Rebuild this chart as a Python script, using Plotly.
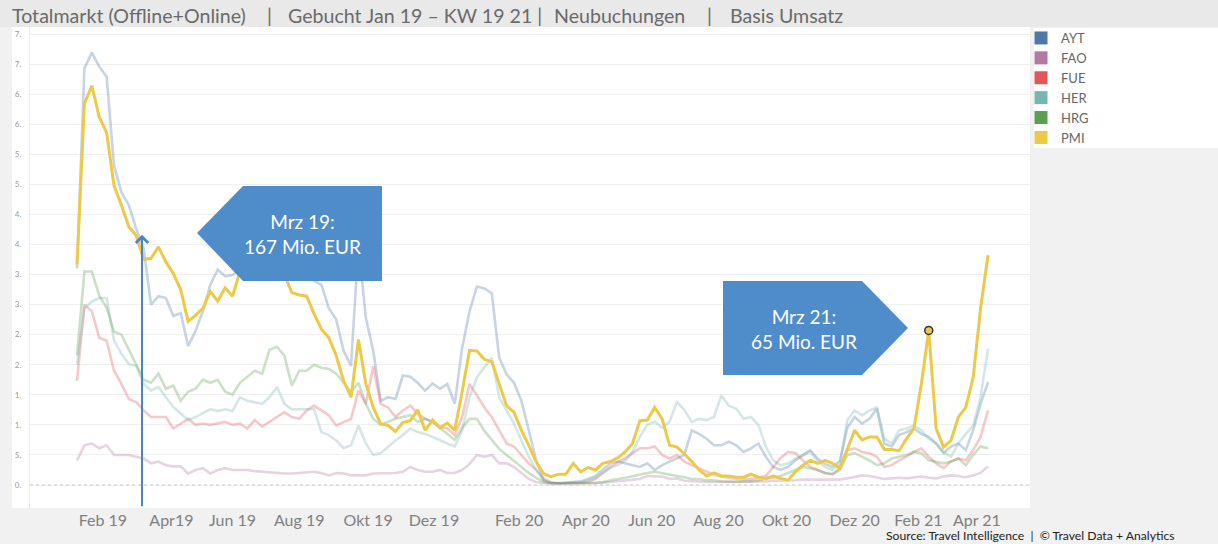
import plotly.graph_objects as go

# ---------------- data (weekly, Jan 2019 .. KW 19 2021) ----------------
PMI = [36.7, 63.4, 66.4, 61.2, 58.6, 49.8, 46.5, 42.9, 41.5, 37.5,
       37.7, 39.6, 37.1, 35.2, 32.5, 27.2, 28.2, 29.4, 32.2, 30.6,
       32.8, 31.4, 35.5, 38.5, 40.0, 41.0, 40.0, 38.0, 35.0, 32.0,
       31.6, 31.4, 28.5, 25.9, 24.5, 21.5, 17.3, 14.6, 24.2, 16.8,
       12.9, 10.2, 9.9, 8.9, 10.4, 10.7, 12.5, 9.1, 10.8, 9.5,
       10.3, 9.1, 15.5, 22.4, 22.3, 20.9, 20.5, 16.8, 13.2, 12.1,
       9.1, 6.6, 3.8, 1.9, 1.4, 1.8, 1.8, 3.6, 2.2, 2.9,
       2.5, 3.6, 3.9, 4.5, 5.5, 6.9, 10.7, 10.8, 12.9, 11.0,
       6.6, 6.3, 5.2, 3.9, 2.5, 1.5, 2.0, 1.5, 1.5, 1.3,
       1.3, 1.8, 1.3, 1.1, 1.5, 1.1, 0.8, 2.2, 3.3, 4.1,
       3.6, 4.1, 3.6, 2.8, 6.1, 9.1, 7.5, 8.0, 8.0, 5.9,
       5.9, 5.7, 7.7, 9.4, 16.8, 25.7, 9.4, 6.3, 7.4, 11.3,
       12.9, 17.9, 29.4, 38.2]

AYT = [36.0, 69.3, 71.9, 69.6, 67.9, 53.1, 48.7, 46.5, 42.6, 39.3,
       30.0, 31.4, 31.1, 28.1, 28.6, 23.1, 25.6, 28.9, 33.3, 35.8,
       34.7, 34.9, 36.0, 37.0, 38.0, 39.0, 38.0, 37.0, 36.0, 35.5,
       35.0, 34.5, 34.0, 33.3, 29.4, 27.5, 22.3, 19.8, 40.0, 27.8,
       22.3, 14.0, 14.6, 14.3, 18.2, 18.0, 17.0, 15.7, 16.9, 16.0,
       16.8, 13.5, 22.8, 28.9, 33.0, 32.7, 31.9, 21.2, 18.4, 17.0,
       14.0, 9.1, 4.1, 0.8, 0.3, 0.3, 0.4, 0.5, 0.6, 1.0,
       1.5, 2.5, 3.6, 3.9, 3.6, 3.3, 3.0, 3.6, 2.5, 3.3,
       3.9, 4.4, 5.0, 9.1, 8.5, 7.7, 6.6, 6.6, 7.2, 6.6,
       5.5, 6.1, 6.9, 4.7, 3.0, 2.5, 3.0, 4.1, 5.0, 5.8,
       4.4, 3.5, 3.0, 4.0, 9.5, 11.3, 10.2, 11.0, 12.7, 6.9,
       6.4, 8.3, 8.8, 9.4, 8.5, 8.0, 6.9, 5.3, 6.4, 6.9,
       5.8, 9.1, 13.5, 17.1]

HER = [20.0, 29.4, 30.5, 31.1, 31.1, 24.0, 21.8, 20.1, 19.8, 16.8,
       15.7, 16.3, 14.6, 13.0, 11.9, 10.8, 11.3, 12.0, 12.6, 12.3,
       12.6, 12.3, 14.6, 14.0, 13.8, 13.5, 14.6, 16.3, 13.5, 12.6,
       12.6, 12.6, 12.6, 8.8, 8.3, 7.4, 6.1, 6.6, 9.9, 6.9,
       5.0, 5.3, 6.4, 7.4, 8.3, 9.4, 8.8, 8.5, 8.0, 7.4,
       6.9, 6.4, 9.1, 14.6, 17.9, 19.6, 21.2, 14.6, 12.4, 10.2,
       7.4, 4.7, 2.5, 0.8, 0.3, 0.2, 0.3, 0.4, 0.5, 0.8,
       1.2, 2.0, 2.8, 3.3, 4.0, 5.5, 8.0, 10.0, 10.5, 9.5,
       10.5, 13.8, 12.5, 10.5, 11.0, 10.8, 11.3, 14.9, 13.2, 12.7,
       11.0, 11.3, 10.0, 6.4, 4.1, 3.3, 3.6, 4.4, 5.0, 5.5,
       4.0, 3.0, 2.5, 3.5, 10.8, 12.4, 11.6, 12.4, 12.9, 7.7,
       6.9, 9.1, 9.4, 9.9, 9.1, 7.7, 6.9, 5.5, 4.7, 6.9,
       8.5, 9.9, 14.6, 22.6]

HRG = [21.5, 35.5, 35.5, 31.5, 29.5, 25.5, 25.0, 22.5, 20.0, 17.5,
       17.0, 18.5, 16.0, 16.5, 14.0, 15.5, 16.0, 17.5, 17.0, 17.5,
       15.5, 15.0, 17.0, 18.0, 19.0, 18.5, 22.5, 23.0, 21.5, 16.5,
       19.0, 19.0, 20.0, 19.5, 19.3, 18.5, 17.0, 15.5, 17.0, 13.5,
       11.0, 10.0, 10.5, 11.0, 11.3, 11.6, 10.5, 11.0, 10.5, 9.5,
       8.5, 7.5, 9.5, 11.0, 11.0, 9.0, 7.5, 6.0, 5.0, 4.0,
       3.0, 2.0, 1.2, 0.5, 0.3, 0.3, 0.3, 0.3, 0.3, 0.3,
       0.3, 0.5, 0.8, 1.0, 1.2, 1.5, 1.8, 2.0, 2.2, 2.0,
       1.8, 1.5, 1.3, 1.0, 1.0, 0.8, 0.8, 0.6, 0.5, 0.5,
       0.6, 0.6, 0.8, 1.0, 1.2, 1.5, 2.0, 2.5, 3.0, 2.8,
       2.5, 2.0, 1.8, 2.5, 5.0, 5.3, 4.7, 4.1, 3.3, 3.6,
       4.4, 4.7, 5.0, 5.5, 5.3, 4.1, 3.9, 3.6, 3.9, 4.4,
       3.3, 5.0, 6.4, 6.1]

FUE = [17.3, 30.0, 28.9, 24.5, 24.0, 19.0, 16.8, 14.3, 13.8, 12.4,
       11.3, 11.3, 11.3, 9.4, 10.2, 11.0, 10.0, 10.2, 10.0, 10.2,
       10.5, 10.0, 10.2, 9.4, 10.8, 9.7, 10.5, 11.3, 12.1, 11.3,
       11.0, 12.4, 13.2, 12.4, 11.6, 9.9, 10.5, 11.0, 15.7, 13.5,
       19.8, 13.5, 12.9, 11.3, 12.4, 13.2, 11.9, 11.0, 10.5, 9.7,
       9.4, 8.3, 11.3, 16.8, 14.9, 12.9, 11.3, 9.1, 6.9, 6.4,
       5.0, 3.6, 2.5, 1.0, 0.5, 0.3, 0.3, 0.3, 0.3, 0.5,
       1.0, 2.0, 3.0, 3.8, 4.4, 5.3, 6.1, 6.1, 6.4, 5.0,
       4.4, 5.0, 3.9, 3.3, 2.8, 2.2, 1.7, 1.4, 1.2, 1.0,
       1.0, 1.0, 1.2, 1.5, 3.0, 4.5, 5.5, 5.3, 4.1, 3.0,
       2.5, 2.0, 1.8, 2.8, 5.8, 6.1, 5.5, 5.3, 4.7, 3.0,
       3.3, 4.1, 4.7, 5.5, 6.1, 4.7, 3.6, 2.8, 3.9, 4.4,
       4.1, 5.8, 8.0, 12.4]

FAO = [4.1, 6.6, 6.9, 6.1, 6.6, 5.0, 5.0, 5.0, 4.7, 4.4,
       3.6, 3.9, 3.3, 3.1, 3.1, 1.9, 2.5, 2.8, 1.9, 2.5,
       2.8, 2.5, 2.5, 2.5, 2.3, 2.2, 2.0, 2.0, 1.9, 1.9,
       2.0, 2.2, 2.2, 2.0, 1.6, 2.0, 1.9, 1.6, 1.6, 1.6,
       1.9, 1.9, 2.0, 2.0, 2.2, 3.0, 2.5, 2.2, 2.2, 2.5,
       2.0, 2.0, 2.5, 3.5, 5.0, 4.7, 5.0, 3.6, 3.6, 3.0,
       2.0, 1.0, 0.5, 0.3, 0.3, 0.3, 0.3, 0.3, 0.3, 0.3,
       0.3, 0.4, 0.5, 0.6, 0.8, 0.8, 1.0, 1.5, 1.5, 1.4,
       1.0, 1.1, 0.7, 0.6, 0.6, 0.5, 0.5, 0.5, 0.6, 0.6,
       0.5, 0.5, 0.6, 0.6, 0.7, 0.7, 0.8, 0.8, 0.9, 0.9,
       0.8, 0.8, 0.8, 0.9, 1.1, 1.4, 1.6, 1.5, 1.3, 1.0,
       1.1, 1.2, 1.1, 1.2, 1.4, 1.2, 1.1, 1.4, 1.6, 1.5,
       1.3, 1.6, 2.0, 3.1]

weeks = list(range(len(PMI)))

x_tick_labels = ["Feb 19", "Apr19", "Jun 19", "Aug 19", "Okt 19", "Dez 19",
                 "Feb 20", "Apr 20", "Jun 20", "Aug 20", "Okt 20", "Dez 20",
                 "Feb 21", "Apr 21"]
x_tick_pos = [3.5, 12.75, 21.0, 30.0, 39.3, 48.2, 59.7, 68.7, 77.6, 86.6,
              95.8, 105.0, 113.6, 121.5]
y_tick_vals = list(range(0, 80, 5))
y_tick_text = ["0.", "5.", "1.", "1.", "2.", "2.", "3.", "3.",
               "4.", "4.", "5.", "5.", "6.", "6.", "7.", "7."]

series = [("AYT", AYT, "#4e79a7"), ("FAO", FAO, "#b07aa1"), ("FUE", FUE, "#e15759"),
          ("HER", HER, "#76b7b2"), ("HRG", HRG, "#59a14f"), ("PMI", PMI, "#edc948")]

# ---------------- geometry helpers ----------------
W, H = 1218, 544
L, R, T, B = 30, 188, 27, 36
PW, PH = W - L - R, H - T - B


def pxx(xp):
    return (xp - L) / PW


def pyy(yp):
    return (H - B - yp) / PH


def fade(hex_color, a=0.32):
    h = hex_color.lstrip("#")
    r, g, b = int(h[0:2], 16), int(h[2:4], 16), int(h[4:6], 16)
    return f"rgba({r},{g},{b},{a})"


fig = go.Figure()

for name, vals, col in series:
    highlighted = name == "PMI"
    fig.add_trace(go.Scatter(
        x=weeks, y=vals, mode="lines", name=name, showlegend=False,
        line=dict(color=col if highlighted else fade(col), width=3 if highlighted else 2.6),
        hoverinfo="skip"))

# highlighted point (Mrz 21 peak)
peak = max(range(100, 121), key=lambda i: PMI[i])
fig.add_trace(go.Scatter(x=[weeks[peak]], y=[PMI[peak]], mode="markers", showlegend=False,
                         marker=dict(size=8, color="#edc948", line=dict(color="#333333", width=1.5)),
                         hoverinfo="skip"))

# legend entries (full colours, squares)
for name, vals, col in series:
    fig.add_trace(go.Scatter(x=[None], y=[None], mode="markers", name=name,
                             marker=dict(symbol="square", size=13, color=col)))

shapes = []
# top band
shapes.append(dict(type="rect", xref="paper", yref="paper", x0=pxx(0), x1=pxx(W), y0=pyy(27), y1=pyy(0),
                   fillcolor="#e9e9e9", line=dict(width=0), layer="below"))
# white chart area
shapes.append(dict(type="rect", xref="paper", yref="paper", x0=pxx(12), x1=pxx(1030), y0=pyy(508), y1=pyy(27),
                   fillcolor="white", line=dict(width=0), layer="below"))
# legend background
shapes.append(dict(type="rect", xref="paper", yref="paper", x0=pxx(1034), x1=pxx(W), y0=pyy(148), y1=pyy(28),
                   fillcolor="white", line=dict(width=0), layer="below"))
# dotted zero line
shapes.append(dict(type="line", xref="paper", yref="y", x0=0, x1=1, y0=0, y1=0,
                   line=dict(color="#c8c8c8", width=1, dash="dot")))


def poly(points):
    return "M " + " L ".join(f"{pxx(a):.5f},{pyy(b):.5f}" for a, b in points) + " Z"


BOX = "#4f8cca"
shapes.append(dict(type="path", xref="paper", yref="paper",
                   path=poly([(197, 233), (243, 186), (382, 186), (382, 281), (243, 281)]),
                   fillcolor=BOX, line=dict(width=0)))
shapes.append(dict(type="path", xref="paper", yref="paper",
                   path=poly([(723, 281), (862, 281), (908, 328), (862, 375), (723, 375)]),
                   fillcolor=BOX, line=dict(width=0)))

annotations = []
TF = "Lato, Open Sans, sans-serif"
title_parts = [(10, "Totalmarkt (Offline+Online)"), (265, "|"),
               (286, "Gebucht Jan 19 \u2013 KW 19 21 |"), (552, "Neubuchungen"),
               (705, "|"), (728, "Basis Umsatz")]
for xp, txt in title_parts:
    annotations.append(dict(xref="paper", yref="paper", x=pxx(xp), y=pyy(15), xanchor="left", yanchor="middle",
                            text=txt, showarrow=False, font=dict(family=TF, size=19.6, color="#6a6a6a")))

annotations.append(dict(xref="paper", yref="paper", x=pxx(302), y=pyy(234), xanchor="center", yanchor="middle",
                        text="Mrz 19:<br>167 Mio. EUR", showarrow=False,
                        font=dict(family=TF, size=19, color="white")))
annotations.append(dict(xref="paper", yref="paper", x=pxx(804), y=pyy(329), xanchor="center", yanchor="middle",
                        text="Mrz 21:<br>65 Mio. EUR", showarrow=False,
                        font=dict(family=TF, size=19, color="white")))
annotations.append(dict(xref="paper", yref="paper", x=pxx(1176), y=pyy(535.5), xanchor="right", yanchor="middle",
                        text="Source: Travel Intelligence  |  \u00a9 Travel Data + Analytics", showarrow=False,
                        borderpad=0,
                        font=dict(family=TF, size=12.2, color="#222222")))
# vertical arrow (Mrz 19)
arrow_x = weeks[0] + (142 - 77) / (988 - 77) * (weeks[-1] - weeks[0])
annotations.append(dict(xref="x", yref="y", axref="x", ayref="y", x=arrow_x, y=41.6, ax=arrow_x, ay=-3.8,
                        text="", showarrow=True, arrowhead=4, arrowsize=1.2, arrowwidth=2,
                        arrowcolor="#4a86c6"))

x_min = weeks[0] - (77 - L) / ((988 - 77) / (weeks[-1] - weeks[0]))
x_max = weeks[-1] + (L + PW - 988) / ((988 - 77) / (weeks[-1] - weeks[0]))
ppu = (485 - 34) / 75.0
y_min = -(H - B - 485) / ppu
y_max = 75 + (34 - T) / ppu

fig.update_layout(
    width=W, height=H,
    margin=dict(l=L, r=R, t=T, b=B, pad=0),
    paper_bgcolor="#f1f1f1", plot_bgcolor="rgba(0,0,0,0)",
    shapes=shapes, annotations=annotations,
    showlegend=True,
    legend=dict(x=pxx(1021), y=pyy(23), xanchor="left", yanchor="top", bgcolor="rgba(0,0,0,0)",
                font=dict(family=TF, size=13, color="#666666"), tracegroupgap=0,
                itemclick=False, itemdoubleclick=False),
    xaxis=dict(range=[x_min, x_max], showgrid=False, zeroline=False, showline=False,
               tickmode="array", tickvals=x_tick_pos, ticktext=x_tick_labels,
               tickfont=dict(family=TF, size=16, color="#808080"), ticks="", ticklabelstandoff=1,
               fixedrange=True),
    yaxis=dict(range=[y_min, y_max], showgrid=True, gridcolor="#f0f0f0", gridwidth=1, zeroline=False,
               showline=True, linecolor="#ececec", linewidth=1,
               tickmode="array", tickvals=y_tick_vals, ticktext=y_tick_text,
               tickfont=dict(family=TF, size=8, color="#9a9a9a"), ticks="", ticklabelstandoff=6,
               fixedrange=True),
)

fig.write_html("out.html", config={"displayModeBar": False},
               post_script="document.body.style.margin='0px';document.body.style.overflow='hidden';")
